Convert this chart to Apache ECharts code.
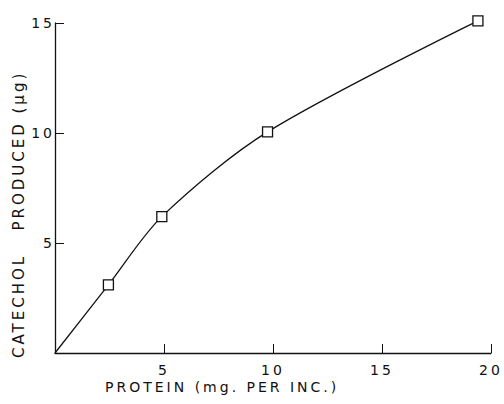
<!DOCTYPE html>
<html>
<head>
<meta charset="utf-8">
<script src="https://cdn.jsdelivr.net/npm/echarts@6/dist/echarts.min.js"></script>
<style>
  html, body { margin: 0; padding: 0; background: #fff; }
  #chart { width: 504px; height: 404px; }
  /* the old figure uses widely spaced lettering */
  #chart svg text { letter-spacing: 3px; }
</style>
</head>
<body>
<div id="chart"></div>
<script>
// protein (mg per incubation) vs catechol produced (ug)
const protein = [0, 2.45, 4.9, 9.75, 19.4];
const catechol = [0, 3.1, 6.2, 10.05, 15.1];
const xTicks = [5, 10, 15, 20];
const yTicks = [5, 10, 15];

const FONT = 'DejaVu Sans';

const chart = echarts.init(document.getElementById('chart'), null, { renderer: 'svg' });

const points = protein.map((p, i) => ({
  value: [p, catechol[i]],
  symbol: i === 0 ? 'none' : 'rect'
}));

chart.setOption({
  backgroundColor: '#fff',
  animation: false,
  grid: { left: 55, right: 13, top: 23, bottom: 51 },
  xAxis: {
    type: 'value', min: 0, max: 20, interval: 5,
    axisLine: { lineStyle: { color: '#111', width: 1.3 } },
    axisTick: { inside: true, length: 9, lineStyle: { color: '#111' } },
    splitLine: { show: false },
    axisLabel: {
      showMinLabel: false, color: '#111', fontFamily: FONT, fontSize: 14, margin: 10,
      formatter: v => xTicks.includes(v) ? String(v) : ''
    }
  },
  yAxis: {
    type: 'value', min: 0, max: 15, interval: 5,
    axisLine: { show: true, lineStyle: { color: '#111', width: 1.3 } },
    axisTick: { show: true, inside: true, length: 9, lineStyle: { color: '#111' } },
    splitLine: { show: false },
    axisLabel: {
      showMinLabel: false, color: '#111', fontFamily: FONT, fontSize: 14, margin: 0,
      formatter: v => yTicks.includes(v) ? String(v) : ''
    }
  },
  graphic: [
    {
      type: 'text', left: 105, top: 380,
      style: { text: 'PROTEIN (mg. PER INC.)', fill: '#111', font: '14px "' + FONT + '"' }
    },
    {
      type: 'text', x: 11, y: 358, rotation: Math.PI / 2,
      style: { text: 'CATECHOL   PRODUCED (\u03bcg)', fill: '#111', font: '15px "' + FONT + '"' }
    }
  ],
  series: [{
    type: 'line',
    data: points,
    smooth: 0.3,
    clip: false,
    symbolSize: 10,
    lineStyle: { color: '#111', width: 1.3 },
    itemStyle: { color: '#fff', borderColor: '#111', borderWidth: 1.3 }
  }]
});
</script>
</body>
</html>
